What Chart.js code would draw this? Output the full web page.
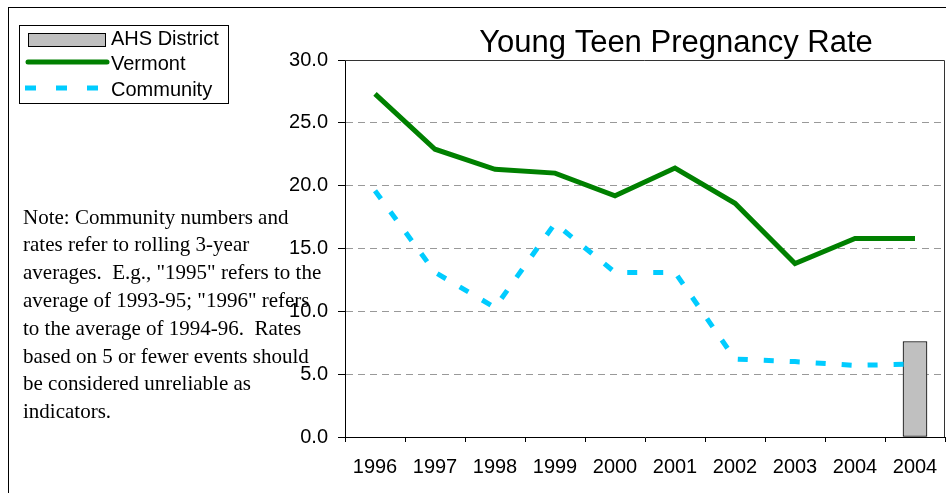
<!DOCTYPE html>
<html>
<head>
<meta charset="utf-8">
<title>Young Teen Pregnancy Rate</title>
<script src="https://cdn.jsdelivr.net/npm/chart.js@4.4.1/dist/chart.umd.min.js"></script>
<style>
    html, body { margin: 0; padding: 0; background: #fff; }
    #wrap { width: 946px; height: 493px; }
</style>
</head>
<body>
<div id="wrap"><canvas id="teenChart" width="946" height="493"></canvas></div>
<script>
const years = ['1996', '1997', '1998', '1999', '2000', '2001', '2002', '2003', '2004', '2004'];
const ahsDistrict = [null, null, null, null, null, null, null, null, null, 7.6];
const vermont = [27.3, 22.9, 21.3, 21.0, 19.2, 21.4, 18.6, 13.8, 15.8, 15.8];
const community = [19.6, 13.1, 10.3, 17.0, 13.1, 13.1, 6.2, 6.0, 5.7, 5.8];
const yTicks = [0, 5, 10, 15, 20, 25, 30];

const noteLines = [
    'Note: Community numbers and',
    'rates refer to rolling 3-year',
    'averages.  E.g., "1995" refers to the',
    'average of 1993-95; "1996" refers',
    'to the average of 1994-96.  Rates',
    'based on 5 or fewer events should',
    'be considered unreliable as',
    'indicators.'
];

const SANS = "'Liberation Sans', Arial, sans-serif";
const SERIF = "'Liberation Serif', 'Times New Roman', serif";
const GREEN = '#008000';
const CYAN = '#00CCFF';
const BAR_GRAY = '#C0C0C0';

// frame, title, legend box and the footnote are drawn straight onto the canvas
const decorations = {
    id: 'decorations',
    beforeDraw(chart) {
        const ctx = chart.ctx;
        ctx.save();
        ctx.fillStyle = '#fff';
        ctx.fillRect(0, 0, chart.width, chart.height);
        ctx.strokeStyle = '#000';
        ctx.lineWidth = 1;
        ctx.strokeRect(8.5, 7.5, 1200, 1200);
        ctx.restore();
    },
    afterDraw(chart) {
        const ctx = chart.ctx;
        const area = chart.chartArea;
        ctx.save();

        // top and right edges of the plot area
        ctx.strokeStyle = '#333';
        ctx.lineWidth = 1;
        ctx.beginPath();
        ctx.moveTo(area.left, area.top + 0.5);
        ctx.lineTo(area.right - 0.5, area.top + 0.5);
        ctx.lineTo(area.right - 0.5, area.bottom);
        ctx.stroke();

        // title
        ctx.fillStyle = '#000';
        ctx.font = '31px ' + SANS;
        ctx.textAlign = 'center';
        ctx.textBaseline = 'middle';
        ctx.fillText('Young Teen Pregnancy Rate', 676, 43);

        // legend
        ctx.fillStyle = '#fff';
        ctx.fillRect(19, 25, 209, 78);
        ctx.strokeStyle = '#000';
        ctx.strokeRect(19.5, 25.5, 209, 78);

        ctx.fillStyle = BAR_GRAY;
        ctx.fillRect(28, 33, 77, 14);
        ctx.strokeRect(28.5, 33.5, 77, 13);

        ctx.strokeStyle = GREEN;
        ctx.lineWidth = 5;
        ctx.lineCap = 'round';
        ctx.beginPath();
        ctx.moveTo(28, 62);
        ctx.lineTo(107, 62);
        ctx.stroke();

        ctx.strokeStyle = CYAN;
        ctx.lineWidth = 5;
        ctx.lineCap = 'butt';
        ctx.setLineDash([11, 20]);
        ctx.beginPath();
        ctx.moveTo(25, 88);
        ctx.lineTo(108, 88);
        ctx.stroke();
        ctx.setLineDash([]);

        ctx.fillStyle = '#000';
        ctx.font = '20px ' + SANS;
        ctx.textAlign = 'left';
        ctx.textBaseline = 'middle';
        ctx.fillText('AHS District', 111, 39);
        ctx.fillText('Vermont', 111, 64);
        ctx.fillText('Community', 111, 90);

        // footnote
        ctx.font = '21px ' + SERIF;
        noteLines.forEach((line, i) => {
            ctx.fillText(line, 23, 218 + i * 27.8);
        });

        ctx.restore();
    }
};

const ctx = document.getElementById('teenChart').getContext('2d');
const chart = new Chart(ctx, {
    type: 'bar',
    data: {
        labels: years,
        datasets: [
            {
                type: 'line',
                label: 'Vermont',
                data: vermont,
                borderColor: GREEN,
                borderWidth: 5,
                pointRadius: 0,
                tension: 0,
                fill: false,
                order: 1
            },
            {
                type: 'line',
                label: 'Community',
                data: community,
                borderColor: CYAN,
                borderWidth: 5,
                borderDash: [10, 16],
                pointRadius: 0,
                tension: 0,
                fill: false,
                order: 0
            },
            {
                type: 'bar',
                label: 'AHS District',
                data: ahsDistrict,
                backgroundColor: BAR_GRAY,
                borderColor: '#000',
                borderWidth: 1,
                borderSkipped: false,
                barThickness: 24,
                order: 2
            }
        ]
    },
    options: {
        responsive: false,
        devicePixelRatio: 1,
        animation: false,
        layout: {
            padding: { left: 0, right: 1, top: 60, bottom: 0 }
        },
        plugins: {
            legend: { display: false },
            title: { display: false },
            tooltip: { enabled: false }
        },
        scales: {
            x: {
                offset: true,
                grid: {
                    offset: true,
                    drawOnChartArea: false,
                    drawTicks: true,
                    tickLength: 5,
                    color: '#000',
                    tickColor: '#000'
                },
                border: { display: true, color: '#000', width: 1 },
                ticks: {
                    color: '#000',
                    font: { family: SANS, size: 20 },
                    padding: 13,
                    maxRotation: 0,
                    autoSkip: false
                },
                afterFit(scale) {
                    // labels sit inside their categories, no side padding needed
                    scale.height = 56;
                    scale.paddingLeft = 0;
                    scale.paddingRight = 0;
                }
            },
            y: {
                min: 0,
                max: 30,
                afterBuildTicks(scale) {
                    scale.ticks = yTicks.map(v => ({ value: v }));
                },
                grid: {
                    color: c => (c.tick && (c.tick.value === 0 || c.tick.value === 30)) ? 'rgba(0,0,0,0)' : '#999',
                    tickColor: '#000',
                    tickLength: 7,
                    drawTicks: true
                },
                border: { display: true, color: '#000', width: 1, dash: [7, 5] },
                ticks: {
                    color: '#000',
                    font: { family: SANS, size: 20 },
                    padding: 10,
                    callback: v => Number(v).toFixed(1)
                },
                afterFit(scale) {
                    scale.width = 345;
                    scale.paddingTop = 0;
                    scale.paddingBottom = 0;
                }
            }
        }
    },
    plugins: [decorations]
});
</script>
</body>
</html>
